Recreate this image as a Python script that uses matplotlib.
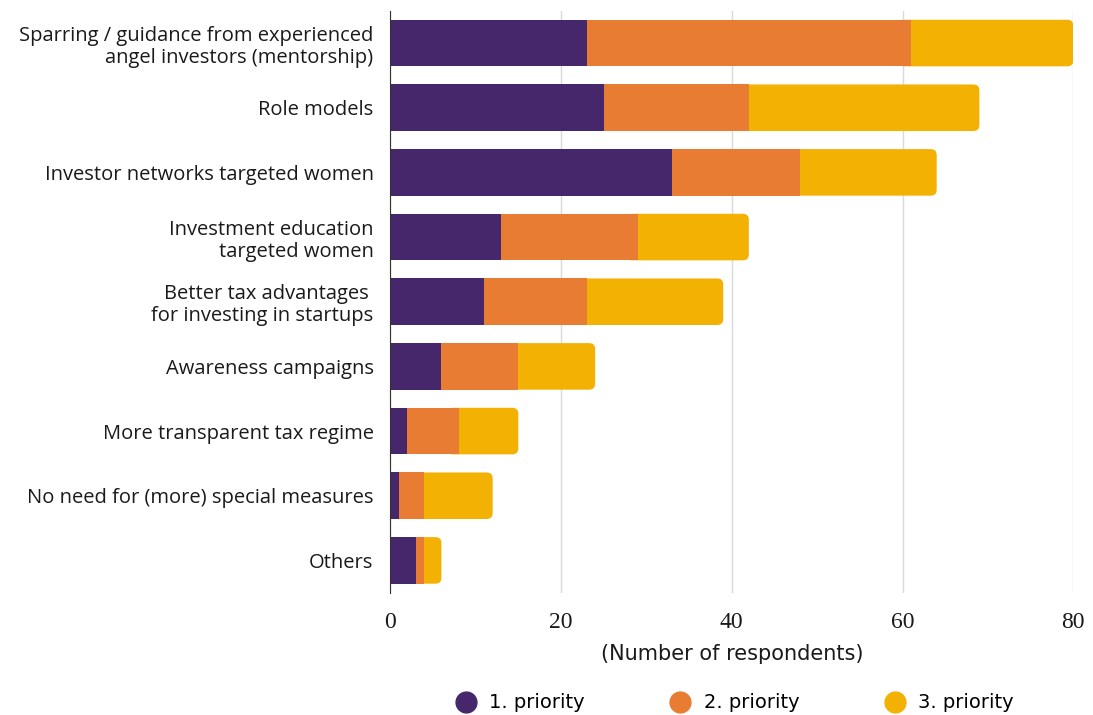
import numpy as np
import matplotlib.pyplot as plt
from matplotlib.patches import FancyBboxPatch
from matplotlib.lines import Line2D

categories = [
    "Sparring / guidance from experienced\nangel investors (mentorship)",
    "Role models",
    "Investor networks targeted women",
    "Investment education\ntargeted women",
    "Better tax advantages \nfor investing in startups",
    "Awareness campaigns",
    "More transparent tax regime",
    "No need for (more) special measures",
    "Others",
]
priority1 = [23, 25, 33, 13, 11, 6, 2, 1, 3]
priority2 = [38, 17, 15, 16, 12, 9, 6, 3, 1]
priority3 = [19, 27, 16, 13, 16, 9, 7, 8, 2]
series_names = ["1. priority", "2. priority", "3. priority"]
colors = ["#47276b", "#e87c32", "#f3b104"]

fig = plt.figure(figsize=(10.93, 7.15), dpi=100)
ax = fig.add_axes([0.357, 0.171, 0.625, 0.814])

y = np.arange(len(categories))
h = 0.72
p1 = np.array(priority1)
p2 = np.array(priority2)
p3 = np.array(priority3)

# last segment with rounded right end
r = 0.7
asp = 0.132
for yi, start, w in zip(y, p1 + p2, p3):
    box = FancyBboxPatch((start - 2 * r, yi - h / 2), w + 2 * r, h,
                         boxstyle=f"round,pad=0,rounding_size={r}",
                         mutation_aspect=asp, fc=colors[2], ec="none", zorder=2)
    ax.add_patch(box)
ax.barh(y, p2, left=p1, height=h, color=colors[1], zorder=3)
ax.barh(y, p1, height=h, color=colors[0], zorder=4)

ax.set_xlim(0, 80)
ax.set_ylim(8.5, -0.5)
ax.set_xticks([0, 20, 40, 60, 80])
ax.grid(axis="x", color="#d9d9d9", lw=1, zorder=0)
for s in ["top", "right", "bottom"]:
    ax.spines[s].set_visible(False)
ax.spines["left"].set_color("#333333")
ax.spines["left"].set_zorder(5)
ax.tick_params(axis="both", length=0)
ax.tick_params(axis="x", pad=14)
ax.set_yticks(y)
ax.set_yticklabels(categories, fontsize=14.5, family="Open Sans", color="#1a1a1a",
                   linespacing=1.15)
ax.tick_params(axis="y", pad=12)
for lbl in ax.get_xticklabels():
    lbl.set_family("Liberation Serif")
    lbl.set_fontsize(17)
    lbl.set_color("#1a1a1a")
ax.set_xlabel("(Number of respondents)", fontsize=15, family="DejaVu Sans",
              color="#1a1a1a", labelpad=8)

handles = [Line2D([], [], marker="o", ls="none", ms=15, mfc=c, mec=c) for c in colors]
fig.legend(handles, series_names, loc="center", bbox_to_anchor=(0.668, 0.017), ncol=3,
           frameon=False, columnspacing=3.9, handletextpad=0.2,
           prop={"family": "DejaVu Sans", "size": 14})

fig.savefig("out.png", dpi=100)
